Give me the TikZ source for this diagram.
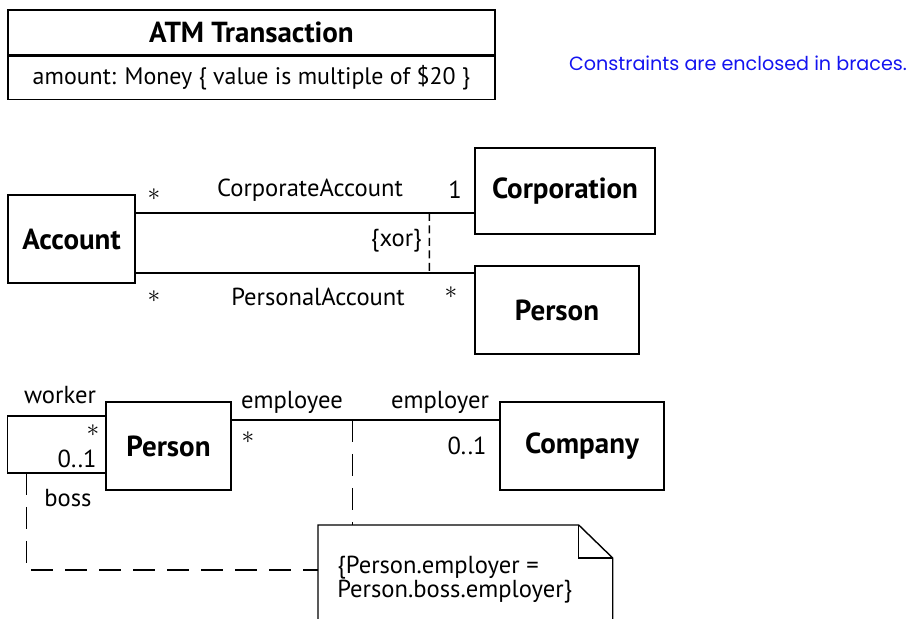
\documentclass[tikz,border=0pt]{standalone}
\usepackage{fontspec}
\setmainfont{PT Sans}
\newfontfamily\remarkfont{Poppins}
\usepackage{xcolor}
\definecolor{remarkBlue}{HTML}{1414F0}
\usetikzlibrary{positioning,calc}

\begin{document}
\begin{tikzpicture}[x=0.2mm, y=-0.2mm,
    every node/.style={font=\fontsize{14}{16}\selectfont, inner sep=0pt},
    cls/.style={draw, line width=0.8pt, font=\fontsize{16.5}{18}\selectfont\bfseries},
    attr/.style={draw, line width=0.8pt, font=\fontsize{13.6}{16}\selectfont},
    assoc/.style={line width=0.8pt},
    xordash/.style={line width=0.8pt, dash pattern=on 1.6mm off 0.9mm},
    constr/.style={line width=0.8pt, dash pattern=on 4.4mm off 2.4mm},
    mult/.style={font=\fontsize{15}{15}\selectfont},
    remark/.style={font=\remarkfont\fontsize{10.9}{12}\selectfont, text=remarkBlue}]
  \useasboundingbox (0,0) rectangle (910,619);
  \clip (0,0) rectangle (910,619);
  \node[cls, minimum width=97.4mm, minimum height=9mm] (atm) at (251.5,32.5) {ATM Transaction};
  \node[attr, minimum width=97.4mm, minimum height=8.6mm, anchor=north] (atmattr) at (atm.south)
        {amount: Money \{ value is multiple of \$20 \}};
  \node[remark] (rmk) at (738,63) {Constraints are enclosed in braces.};
  \node[cls, minimum width=25.4mm, minimum height=17.6mm] (acc)  at (71.5,239) {Account};
  \node[cls, minimum width=36mm,   minimum height=17.2mm] (corp) at (565,191)  {Corporation};
  \node[cls, minimum width=32.8mm, minimum height=17.6mm] (per)  at (557,310)  {Person};
  \path ($(acc.east)+(0,-26)$) coordinate (ca1);
  \path ($(acc.east)+(0,34)$)  coordinate (pa1);
  \draw[assoc] (ca1) -- (ca1 -| corp.west);
  \draw[assoc] (pa1) -- (pa1 -| per.west);
  \draw[xordash] ($(ca1 -| corp.west)+(-45,0)$) -- ($(pa1 -| per.west)+(-45,0)$);
  \node[mult] (m1) at (154,195) {$\ast$};
  \node (caname) at (310,190) {CorporateAccount};
  \node (m2) at (455,190) {1};
  \node[anchor=east] (xor) at (422,241) {\{xor\}};
  \node[mult] (m3) at (154,297) {$\ast$};
  \node (paname) at (318,297) {PersonalAccount};
  \node[mult] (m4) at (451,293) {$\ast$};
  \node[cls, minimum width=25mm,   minimum height=17.6mm] (per2) at (168.5,446) {Person};
  \node[cls, minimum width=32.8mm, minimum height=17.6mm] (comp) at (582,446)   {Company};
  \path ($(per2.west)+(0,-30)$) coordinate (w1);
  \path ($(per2.west)+(0,27)$)  coordinate (w2);
  \draw[assoc] (w1) -- ++(-98,0) |- (w2);
  \path ($(per2.east)+(0,-26)$) coordinate (ec);
  \draw[assoc] (ec) -- (ec -| comp.west);
  \node (worker) at (60,395) {worker};
  \node[mult] (m5) at (93,431) {$\ast$};
  \node[anchor=east] (m6) at (97,459) {0..1};
  \node (boss) at (68,498) {boss};
  \node (employee) at (292,402) {employee};
  \node[mult] (m7) at (248,438) {$\ast$};
  \node (employer) at (440,402) {employer};
  \node (m8) at (467,446) {0..1};
  \node[minimum width=58.8mm, minimum height=23mm, anchor=north west] (cnote) at (318,525) {};
  \draw[line width=0.8pt] (cnote.south west) -- (cnote.north west) -- ($(cnote.north east)+(-34,0)$)
        -- ($(cnote.north east)+(0,33)$) -- (cnote.south east);
  \draw[line width=0.8pt] ($(cnote.north east)+(-34,0)$) |- ($(cnote.north east)+(0,33)$);
  \node[anchor=north west, align=left, font=\fontsize{14}{13.6}\selectfont] (ctext)
        at ($(cnote.north west)+(19,31)$) {\{Person.employer =\\Person.boss.employer\}};
  \path ($(ec)+(121,0)$) coordinate (ep);
  \draw[constr] (ep) -- (ep |- cnote.north);
  \draw[constr] ($(w2)+(-79,0)$) |- ($(cnote.north west)+(0,45)$);
\end{tikzpicture}
\end{document}
